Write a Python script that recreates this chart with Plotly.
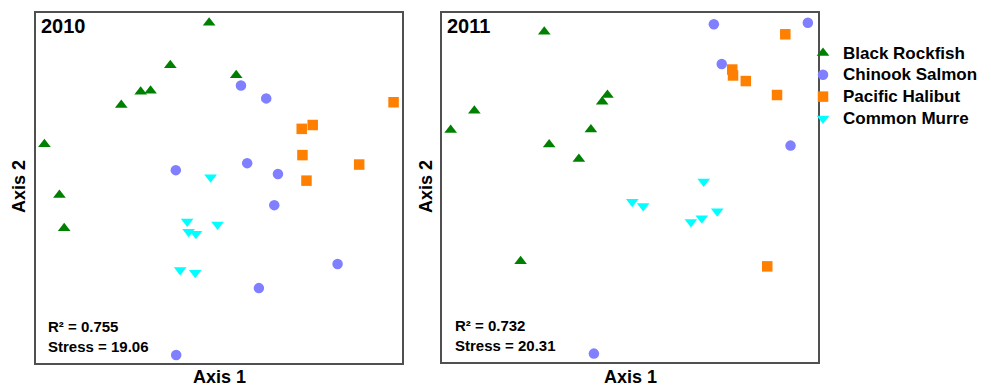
import plotly.graph_objects as go

# Positions below are given in window pixels; the page body offsets the figure by 8 px
OFF = 8
WIN_W, WIN_H = 991, 387
W, H = WIN_W - OFF, WIN_H - OFF
FONT = "Liberation Sans, Arial, sans-serif"

species = ["Black Rockfish", "Chinook Salmon", "Pacific Halibut", "Common Murre"]
symbols = ["triangle-up", "circle", "square", "triangle-down"]
colors = ["#008000", "#7f7fff", "#ff7f00", "#00ffff"]
sizes = [11, 10.5, 10.5, 11]

# ---- 2010 NMDS scores (axis 1, axis 2) ----
rockfish_2010_x = [47.3, 36.7, 28.6, 31.3, 23.3, 54.7, 2.3, 6.4, 7.7]
rockfish_2010_y = [97.2, 85.1, 77.5, 77.8, 73.7, 82.2, 62.5, 48.0, 38.5]
chinook_2010_x = [56.0, 62.9, 38.2, 57.7, 66.1, 65.1, 82.4, 60.9, 38.3]
chinook_2010_y = [79.3, 75.6, 55.1, 57.1, 54.0, 45.1, 28.3, 21.4, 2.3]
halibut_2010_x = [97.7, 72.6, 75.6, 72.8, 88.3, 73.9]
halibut_2010_y = [74.5, 66.9, 68.0, 59.4, 56.7, 52.1]
murre_2010_x = [47.7, 41.3, 41.7, 43.7, 49.6, 39.4, 43.5]
murre_2010_y = [53.1, 40.4, 37.5, 36.9, 39.6, 26.6, 25.8]

# ---- 2011 NMDS scores ----
rockfish_2011_x = [27.2, 8.6, 2.3, 44.0, 42.6, 39.6, 28.5, 36.4, 20.9]
rockfish_2011_y = [94.6, 72.0, 66.5, 76.5, 74.6, 66.6, 62.3, 58.2, 28.9]
chinook_2011_x = [72.3, 97.3, 74.4, 92.7, 40.4]
chinook_2011_y = [96.8, 97.2, 85.4, 62.0, 2.4]
halibut_2011_x = [91.3, 77.2, 77.4, 80.8, 89.1, 86.5]
halibut_2011_y = [93.9, 83.8, 82.1, 80.5, 76.5, 27.4]
murre_2011_x = [69.6, 50.6, 53.5, 66.2, 69.1, 73.2]
murre_2011_y = [51.7, 45.9, 44.7, 40.1, 41.2, 43.2]

panels = [
    ("2010", "R² = 0.755<br>Stress = 19.06",
     [(rockfish_2010_x, rockfish_2010_y), (chinook_2010_x, chinook_2010_y),
      (halibut_2010_x, halibut_2010_y), (murre_2010_x, murre_2010_y)]),
    ("2011", "R² = 0.732<br>Stress = 20.31",
     [(rockfish_2011_x, rockfish_2011_y), (chinook_2011_x, chinook_2011_y),
      (halibut_2011_x, halibut_2011_y), (murre_2011_x, murre_2011_y)]),
]

fig = go.Figure()
for p, (year, stats, series) in enumerate(panels):
    ax = "" if p == 0 else "2"
    for i, (xs, ys) in enumerate(series):
        fig.add_trace(go.Scatter(
            x=xs, y=ys, mode="markers",
            name=f"<span style='font-size:17px'>{species[i]}</span>",
            legendgroup=species[i], showlegend=(p == 0),
            marker=dict(symbol=symbols[i], color=colors[i], size=sizes[i],
                        line=dict(width=0)),
            xaxis="x" + ax, yaxis="y" + ax,
        ))


def px_x(v):
    return (v - OFF) / W


def px_y(v):
    return 1 - (v - OFF) / H


ax_common = dict(range=[0, 100], showticklabels=False, ticks="", showgrid=False,
                 zeroline=False, showline=True, linecolor="#505050", linewidth=2,
                 mirror=True, fixedrange=True)

fig.update_layout(
    width=W, height=H,
    margin=dict(l=0, r=0, t=0, b=0),
    paper_bgcolor="white", plot_bgcolor="white",
    font=dict(family=FONT, color="black"),
    xaxis=dict(domain=[px_x(36), px_x(402)], anchor="y", **ax_common),
    yaxis=dict(domain=[px_y(363), px_y(13)], anchor="x", **ax_common),
    xaxis2=dict(domain=[px_x(442), px_x(818)], anchor="y2", **ax_common),
    yaxis2=dict(domain=[px_y(362), px_y(13)], anchor="x2", **ax_common),
    legend=dict(x=px_x(803), y=px_y(37), xanchor="left", yanchor="top",
                bgcolor="rgba(0,0,0,0)", tracegroupgap=0,
                font=dict(family=FONT, size=14.5, weight="bold", color="black")),
    showlegend=True,
)

ann = []
# panel labels
ann.append(dict(text="2010", x=px_x(39), y=px_y(26), xanchor="left", yanchor="middle",
                font=dict(size=20, weight="bold")))
ann.append(dict(text="2011", x=px_x(445), y=px_y(26), xanchor="left", yanchor="middle",
                font=dict(size=20, weight="bold")))
# stats
ann.append(dict(text=panels[0][1], x=px_x(46), y=px_y(336), xanchor="left", yanchor="middle",
                align="left", font=dict(size=15, weight="bold")))
ann.append(dict(text=panels[1][1], x=px_x(453), y=px_y(335), xanchor="left", yanchor="middle",
                align="left", font=dict(size=15, weight="bold")))
# axis titles
for cx, ylab_x in [(219, 19), (630, 426)]:
    ann.append(dict(text="Axis 1", x=px_x(cx), y=px_y(377), xanchor="center", yanchor="middle",
                    font=dict(size=18, weight="bold")))
    ann.append(dict(text="Axis 2", x=px_x(ylab_x), y=px_y(187), xanchor="center", yanchor="middle",
                    textangle=-90, font=dict(size=18, weight="bold")))

for a in ann:
    a.update(xref="paper", yref="paper", showarrow=False)
    a["font"]["family"] = FONT
    a["font"]["color"] = "black"
fig.update_layout(annotations=ann)

fig.write_html("out.html")
